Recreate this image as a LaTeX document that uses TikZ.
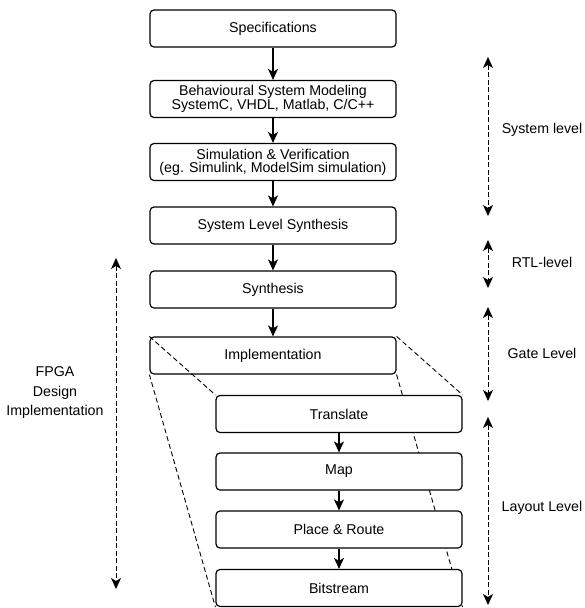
\documentclass[tikz,border=0pt]{standalone}
\usepackage{fontspec}
\setmainfont{Liberation Sans}
\usetikzlibrary{arrows.meta,backgrounds}

\tikzset{
  stage/.style={draw, line width=1.2pt, rounded corners=4pt, fill=white,
    minimum width=246pt, minimum height=37pt, inner sep=0pt, align=center,
    font=\fontsize{14.2}{13}\selectfont},
  flow/.style={-{Stealth[length=11pt,width=10pt,inset=3pt]}, line width=1.3pt},
  span/.style={{Stealth[length=11pt,width=10pt,inset=3pt]}-{Stealth[length=11pt,width=10pt,inset=3pt]},
    line width=1pt, dash pattern=on 5pt off 2.5pt},
  guide/.style={line width=0.9pt, dash pattern=on 5pt off 3pt},
  tag/.style={align=center, font=\fontsize{14.2}{19.5}\selectfont}
}

\begin{document}
\begin{tikzpicture}[x=1pt,y=-1pt]
  \useasboundingbox (0,0) rectangle (585,608);

  \node[stage] (spec) at (273,28.5) {Specifications};
  \node[stage] (model) at (273,99) {Behavioural System Modeling\\SystemC, VHDL, Matlab, C/C++};
  \node[stage] (sim) at (273,162) {Simulation \& Verification\\(eg. Simulink, ModelSim simulation)};
  \node[stage] (sls) at (273,225.5) {System Level Synthesis};
  \node[stage] (synth) at (273,289.5) {Synthesis};
  \node[stage] (impl) at (273,355.5) {Implementation};
  \node[stage] (trans) at (339,414) {Translate};
  \node[stage] (map) at (339,471.5) {Map};
  \node[stage] (par) at (339,529.5) {Place \& Route};
  \node[stage] (bits) at (339,588) {Bitstream};

  \draw[flow] (spec) -- (model);
  \draw[flow] (model) -- (sim);
  \draw[flow] (sim) -- (sls);
  \draw[flow] (sls) -- (synth);
  \draw[flow] (synth) -- (impl);
  \draw[flow] (trans) -- (map);
  \draw[flow] (map) -- (par);
  \draw[flow] (par) -- (bits);

  \draw[guide] (impl.north west) -- (trans.north west);
  \draw[guide] (impl.north east) -- (trans.north east);
  \begin{scope}[on background layer]
    \draw[guide] (impl.south west) -- (bits.south west);
    \draw[guide] (impl.south east) -- (bits.south east);
  \end{scope}

  \node[tag] (fpga) at (55,393) {FPGA\\Design\\Implementation};
  \coordinate (fpgaT) at (116,258);
  \coordinate (fpgaB) at (116,589);
  \draw[span] (fpgaT) -- (fpgaB);

  \node[tag] (syslvl) at (542,130) {System level};
  \node[tag] (rtllvl) at (542,262) {RTL-level};
  \node[tag] (gatelvl) at (542,353) {Gate Level};
  \node[tag] (laylvl) at (542,508) {Layout Level};

  \coordinate (sysT) at (488,57);
  \coordinate (sysB) at (488,216);
  \coordinate (rtlT) at (488,240);
  \coordinate (rtlB) at (488,288);
  \coordinate (gateT) at (488,307);
  \coordinate (gateB) at (488,401);
  \coordinate (layT) at (488,417);
  \coordinate (layB) at (488,605);
  \draw[span] (sysT) -- (sysB);
  \draw[span] (rtlT) -- (rtlB);
  \draw[span] (gateT) -- (gateB);
  \draw[span] (layT) -- (layB);
\end{tikzpicture}
\end{document}
